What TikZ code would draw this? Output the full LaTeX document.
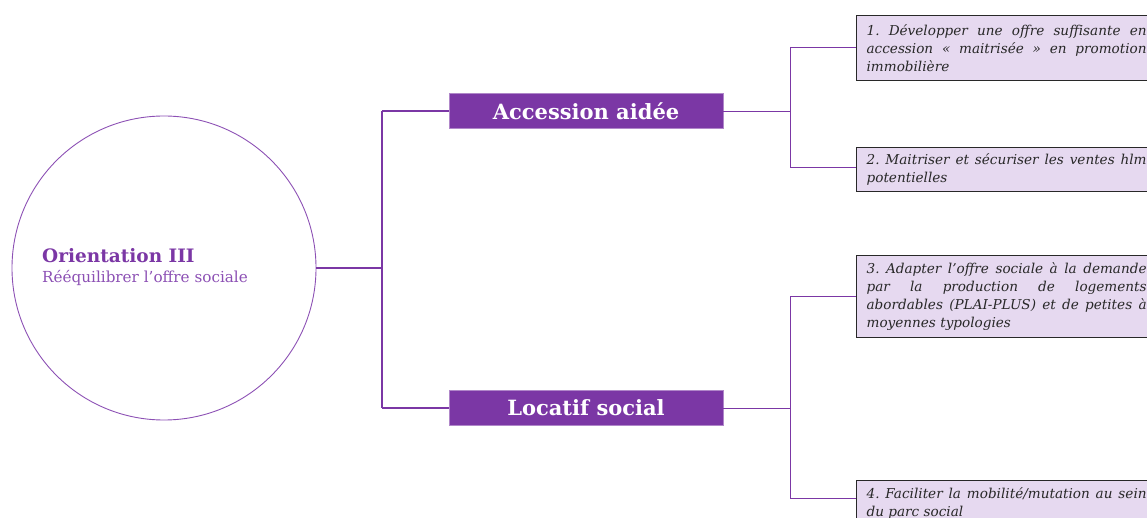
\documentclass[tikz,border=0pt]{standalone}
\usepackage{fontspec}
\setmainfont{DejaVu Serif}
\definecolor{vio}{RGB}{123,55,165}
\definecolor{lvio}{RGB}{230,217,240}
\definecolor{cvio}{RGB}{140,80,180}
\definecolor{dark}{RGB}{40,40,40}
\tikzset{
  trunk/.style={draw=vio, line width=2.4pt},
  twig/.style={draw=vio, line width=0.9pt},
  catbox/.style={fill=vio, draw=vio!60, line width=0.6pt, minimum width=274pt, minimum height=35pt,
    text=white, font=\fontsize{21}{24}\selectfont\bfseries, inner sep=0pt},
  leafbox/.style={fill=lvio, draw=dark, line width=1.2pt, anchor=north west,
    text width=280pt, inner xsep=10pt, inner ysep=7pt, align=justify, text=dark,
    font=\fontsize{13.6}{18}\selectfont\itshape\frenchspacing},
}
\begin{document}
\begin{tikzpicture}[x=1pt,y=-1pt]
\useasboundingbox (0,0) rectangle (1147,518);
\clip (0,0) rectangle (1147,518);
\node[circle, draw=cvio, line width=0.9pt, minimum size=304pt, inner sep=0pt] (c) at (164,268) {};
\node[anchor=west, align=left, text=vio, inner sep=0pt] (ct) at (42,256)
  {\fontsize{18.5}{20}\selectfont\bfseries Orientation III};
\node[anchor=west, align=left, text=cvio, inner sep=0pt] (cs) at (42,278)
  {\fontsize{15.2}{18}\selectfont Rééquilibrer l'offre sociale};
\node[catbox] (a) at (586,111) {Accession aidée};
\node[catbox] (l) at (586,408) {Locatif social};
\node[leafbox, minimum height=65pt] (f1) at (856,15) {1. Développer une offre suffisante en\linebreak accession « maitrisée » en promotion\linebreak immobilière};
\node[leafbox, inner ysep=6pt] (f2) at (856,147) {2. Maitriser et sécuriser les ventes hlm\linebreak potentielles};
\node[leafbox] (f3) at (856,255) {3. Adapter l'offre sociale à la demande\linebreak par la production de logements\linebreak abordables (PLAI-PLUS) et de petites à\linebreak moyennes typologies};
\node[leafbox] (f4) at (856,480) {4. Faciliter la mobilité/mutation au sein\linebreak du parc social};
\coordinate (j0) at (382,268);
\coordinate (j0t) at (382,111);
\coordinate (j0b) at (382,408);
\coordinate (j1) at (790,111);
\coordinate (j1t) at (790,47);
\coordinate (j1b) at (790,167);
\coordinate (j2) at (790,408);
\coordinate (j2t) at (790,296);
\coordinate (j2b) at (790,498);
\draw[trunk] (c.east) -- (j0);
\draw[trunk] (j0t) -- (j0b);
\draw[trunk] (j0t) -- (a.west);
\draw[trunk] (j0b) -- (l.west);
\draw[twig] (a.east) -- (j1);
\draw[twig] (j1t) -- (j1b);
\draw[twig] (j1t) -- (j1t -| f1.west);
\draw[twig] (j1b) -- (j1b -| f2.west);
\draw[twig] (l.east) -- (j2);
\draw[twig] (j2t) -- (j2b);
\draw[twig] (j2t) -- (j2t -| f3.west);
\draw[twig] (j2b) -- (j2b -| f4.west);
\end{tikzpicture}
\end{document}
